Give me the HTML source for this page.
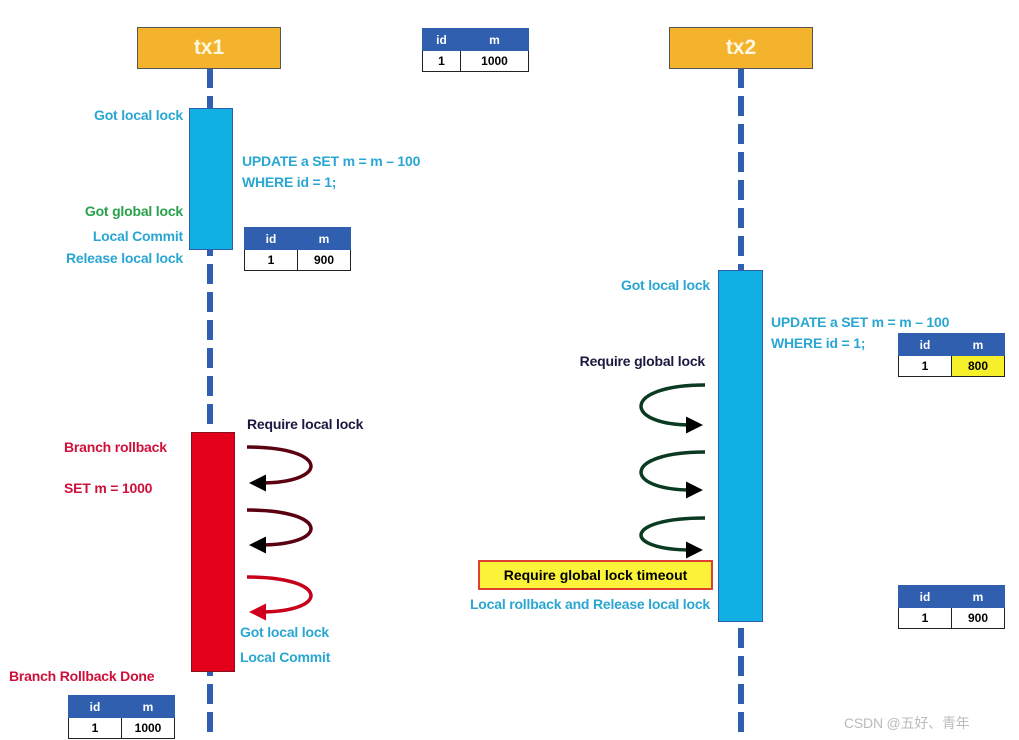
<!DOCTYPE html>
<html><head><meta charset="utf-8"><style>
body{margin:0;width:1019px;height:740px;background:#fff;position:relative;overflow:hidden;font-family:"Liberation Sans",sans-serif;}
.a{position:absolute;}
.t{position:absolute;font-size:14px;font-weight:bold;white-space:nowrap;letter-spacing:-0.2px}
.c{color:#2aa6d2}
.tbl{position:absolute;border-collapse:collapse;font-size:12px;font-weight:bold;text-align:center;}
.tbl td{border:1.5px solid #222;padding:0;}
.tbl tr:first-child td{background:#2f5fae;color:#fff;border-color:#2f5fae;height:21px;}
.tbl tr:last-child td{height:20px;}
</style></head><body>
<svg class="a" style="left:0;top:0" width="1019" height="740">
<line x1="210" y1="68" x2="210" y2="740" stroke="#2f5fae" stroke-width="6" stroke-dasharray="20 8"/>
<line x1="741" y1="68" x2="741" y2="740" stroke="#2f5fae" stroke-width="6" stroke-dasharray="20 8"/>
<defs>
<marker id="ak" markerWidth="17" markerHeight="17" refX="6" refY="8.5" orient="auto" markerUnits="userSpaceOnUse"><path d="M0,0 L17,8.5 L0,17z" fill="#000"/></marker>
<marker id="ar" markerWidth="17" markerHeight="17" refX="6" refY="8.5" orient="auto" markerUnits="userSpaceOnUse"><path d="M0,0 L17,8.5 L0,17z" fill="#d0001c"/></marker>
</defs>
<g fill="none" stroke-width="3.5">
<path d="M247,447 C330,447 330,483 260,483" stroke="#5a0010" marker-end="url(#ak)"/>
<path d="M247,510 C330,510 330,545 260,545" stroke="#5a0010" marker-end="url(#ak)"/>
<path d="M247,577 C330,577 330,612 260,612" stroke="#c8001a" marker-end="url(#ar)"/>
<path d="M705,385 C622,385 622,425 692,425" stroke="#0a3a20" marker-end="url(#ak)"/>
<path d="M705,452 C622,452 622,490 692,490" stroke="#0a3a20" marker-end="url(#ak)"/>
<path d="M705,518 C622,518 622,550 692,550" stroke="#0a3a20" marker-end="url(#ak)"/>
</g>
</svg>
<div class="a" style="left:137px;top:27px;width:142px;height:40px;background:#f3b32c;border:1px solid #555;color:#fff8e0;font-size:21px;font-weight:bold;text-align:center;line-height:40px">tx1</div>
<div class="a" style="left:669px;top:27px;width:142px;height:40px;background:#f3b32c;border:1px solid #555;color:#fff8e0;font-size:21px;font-weight:bold;text-align:center;line-height:40px">tx2</div>
<div class="a" style="left:189px;top:108px;width:42px;height:140px;background:#10b0e2;border:1.5px solid #2f5fae"></div>
<div class="a" style="left:191px;top:432px;width:42px;height:238px;background:#e2001a;border:1.5px solid #8a1020"></div>
<div class="a" style="left:718px;top:270px;width:43px;height:350px;background:#10b0e2;border:1.5px solid #2f5fae"></div>
<table class="tbl" style="left:422px;top:28px"><tr><td style="width:37px">id</td><td style="width:67px">m</td></tr><tr><td>1</td><td>1000</td></tr></table>
<table class="tbl" style="left:244px;top:227px"><tr><td style="width:52px">id</td><td style="width:52px">m</td></tr><tr><td>1</td><td>900</td></tr></table>
<table class="tbl" style="left:898px;top:333px"><tr><td style="width:52px">id</td><td style="width:52px">m</td></tr><tr><td>1</td><td style="background:#f5f02a">800</td></tr></table>
<table class="tbl" style="left:898px;top:585px"><tr><td style="width:52px">id</td><td style="width:52px">m</td></tr><tr><td>1</td><td>900</td></tr></table>
<table class="tbl" style="left:68px;top:695px"><tr><td style="width:52px">id</td><td style="width:52px">m</td></tr><tr><td>1</td><td>1000</td></tr></table>
<div class="t c" style="right:836px;top:107px">Got local lock</div>
<div class="t c" style="left:242px;top:151px;line-height:21px">UPDATE a SET m = m – 100<br>WHERE id = 1;</div>
<div class="t" style="right:836px;top:203px;color:#27a24a">Got global lock</div>
<div class="t c" style="right:836px;top:228px">Local Commit</div>
<div class="t c" style="right:836px;top:250px">Release local lock</div>
<div class="t c" style="right:309px;top:277px">Got local lock</div>
<div class="t c" style="left:771px;top:312px;line-height:21px">UPDATE a SET m = m – 100<br>WHERE id = 1;</div>
<div class="t" style="right:314px;top:353px;color:#1a1a40">Require global lock</div>
<div class="t" style="left:247px;top:416px;color:#1a1a40">Require local lock</div>
<div class="t" style="left:64px;top:439px;color:#d0103a">Branch rollback</div>
<div class="t" style="left:64px;top:480px;color:#d0103a">SET m = 1000</div>
<div class="t c" style="left:240px;top:624px">Got local lock</div>
<div class="t c" style="left:240px;top:649px">Local Commit</div>
<div class="t" style="left:9px;top:668px;color:#d0103a">Branch Rollback Done</div>
<div class="a" style="left:478px;top:560px;width:235px;height:30px;background:#fbf33a;border:2px solid #e04030;box-sizing:border-box;font-size:14px;font-weight:bold;line-height:26px;text-align:center">Require global lock timeout</div>
<div class="t c" style="right:309px;top:596px">Local rollback and Release local lock</div>
<div class="t" style="left:844px;top:713px;color:#bbb;font-weight:normal;font-family:'Liberation Sans','Noto Sans CJK SC',sans-serif">CSDN @五好、青年</div>
</body></html>
